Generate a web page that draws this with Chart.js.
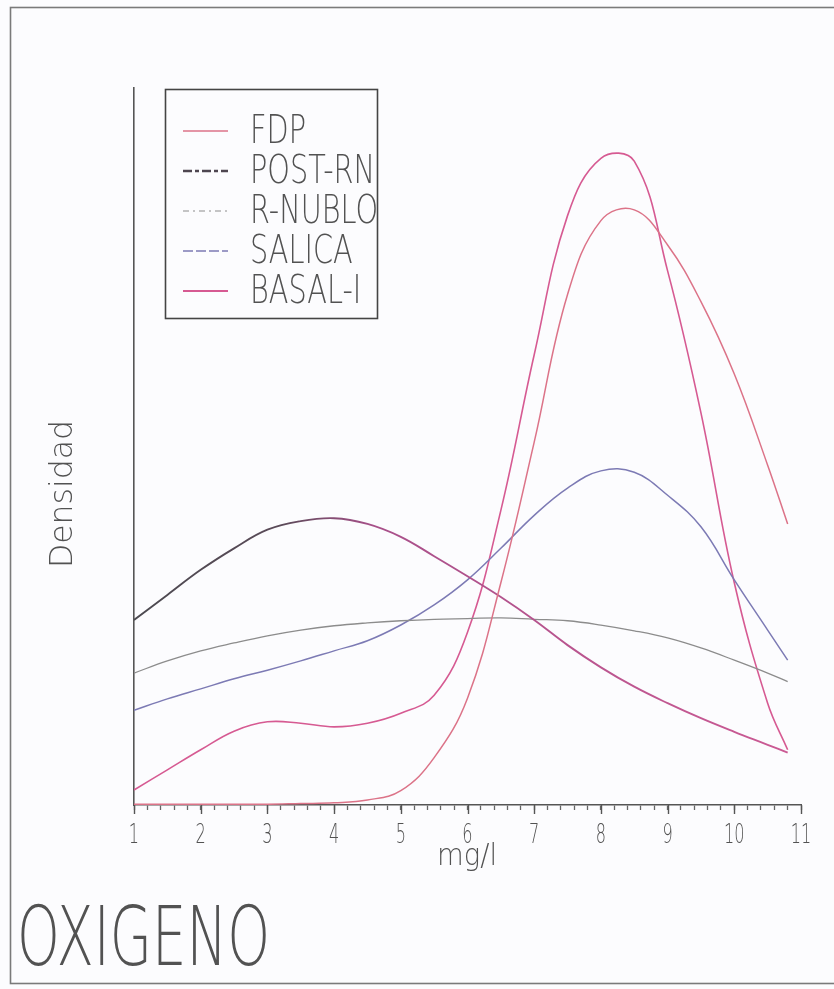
<!DOCTYPE html>
<html>
<head>
<meta charset="utf-8">
<script src="https://cdn.jsdelivr.net/npm/chart.js@4.4.0/dist/chart.umd.min.js"></script>
<style>
html, body { margin: 0; padding: 0; background: #fcfcfe; }
#wrap { position: relative; width: 834px; height: 989px; }
</style>
</head>
<body>
<div id="wrap"><canvas id="chart_oxigeno" width="834" height="989"></canvas></div>
<script>
// oxigeno (mg/l) sample points
let oxigeno = [1, 1.5, 2, 2.5, 3, 3.5, 4, 4.5, 5, 5.5, 6, 6.5, 7, 7.5, 8, 8.5, 9, 9.5, 10, 10.5, 10.8];

// densidades
let fdp    = [0.001, 0.001, 0.001, 0.001, 0.001, 0.002, 0.003, 0.007, 0.020, 0.066, 0.149, 0.310, 0.506, 0.712, 0.815, 0.830, 0.781, 0.702, 0.601, 0.474, 0.392];
let postRn = [0.258, 0.293, 0.328, 0.358, 0.384, 0.396, 0.400, 0.392, 0.374, 0.347, 0.319, 0.290, 0.258, 0.223, 0.192, 0.165, 0.142, 0.121, 0.102, 0.084, 0.073];
let rNublo = [0.184, 0.201, 0.215, 0.226, 0.236, 0.244, 0.250, 0.254, 0.257, 0.259, 0.260, 0.261, 0.259, 0.257, 0.251, 0.243, 0.233, 0.219, 0.202, 0.184, 0.172];
let salica = [0.132, 0.148, 0.162, 0.176, 0.188, 0.201, 0.215, 0.229, 0.251, 0.279, 0.314, 0.358, 0.404, 0.442, 0.466, 0.464, 0.432, 0.388, 0.314, 0.244, 0.202];
let basalI = [0.021, 0.049, 0.077, 0.103, 0.116, 0.114, 0.109, 0.114, 0.128, 0.153, 0.241, 0.411, 0.628, 0.822, 0.902, 0.898, 0.745, 0.547, 0.310, 0.142, 0.077];

let seriesNames = ['FDP', 'POST-RN', 'R-NUBLO', 'SALICA', 'BASAL-I'];
let xTickLabels = [1, 2, 3, 4, 5, 6, 7, 8, 9, 10, 11];

let textColor = '#525252';
let font = "200 {s}px 'DejaVu Sans'";

function pts(arr) {
    return oxigeno.map((x, i) => ({ x: x, y: arr[i] }));
}

// POST-RN se ve gris oscuro a la izquierda y magenta a la derecha
function postRnColor(context) {
    let chart = context.chart;
    let area = chart.chartArea;
    if (!area) return '#6a4a60';
    let g = chart.ctx.createLinearGradient(area.left, 0, area.right, 0);
    g.addColorStop(0, '#4c4a50');
    g.addColorStop(0.22, '#5a4a58');
    g.addColorStop(0.36, '#a8508a');
    g.addColorStop(1, '#cc5a94');
    return g;
}

function drawText(ctx, text, x, y, size, sx, align) {
    ctx.save();
    ctx.translate(x, y);
    ctx.scale(sx, 1);
    ctx.font = font.replace('{s}', size);
    ctx.textAlign = align || 'left';
    ctx.textBaseline = 'alphabetic';
    ctx.fillStyle = textColor;
    ctx.fillText(text, 0, 0);
    ctx.restore();
}

function fitScale(ctx, text, size, width) {
    ctx.save();
    ctx.font = font.replace('{s}', size);
    let w = ctx.measureText(text).width;
    ctx.restore();
    return width / w;
}

let legendColors = ['#dc7388', '#4e4650', '#8c8c8c', '#7c7ab4', '#d65a92'];
let legendDash = [[], [9, 3, 4, 3], [6, 4, 2, 4], [10, 3], []];
let legendWidth = [1.6, 2.6, 1.2, 1.6, 1.8];

let decor = {
    id: 'decor',
    beforeDraw(chart) {
        let ctx = chart.ctx;
        ctx.save();
        ctx.fillStyle = '#fcfcfe';
        ctx.fillRect(0, 0, chart.width, chart.height);
        ctx.strokeStyle = '#7a7a7a';
        ctx.lineWidth = 1.6;
        ctx.strokeRect(10.5, 7.5, 840, 976);
        ctx.restore();
    },
    afterDraw(chart) {
        let ctx = chart.ctx;
        let xs = chart.scales.x;
        let bottom = chart.chartArea.bottom;

        // marcas mayores mas largas
        ctx.save();
        ctx.strokeStyle = '#555';
        ctx.lineWidth = 1.4;
        xTickLabels.forEach(v => {
            let px = Math.round(xs.getPixelForValue(v)) + 0.5;
            ctx.beginPath();
            ctx.moveTo(px, bottom);
            ctx.lineTo(px, bottom + 9);
            ctx.stroke();
        });
        ctx.restore();

        // etiquetas del eje x
        xTickLabels.forEach(v => {
            drawText(ctx, String(v), xs.getPixelForValue(v), 843, 26, 0.62, 'center');
        });

        // titulos de ejes
        let sxm = fitScale(ctx, 'mg/l', 30, 60);
        drawText(ctx, 'mg/l', 467, 865, 30, sxm, 'center');

        ctx.save();
        ctx.translate(72, 494);
        ctx.rotate(-Math.PI / 2);
        let sxd = fitScale(ctx, 'Densidad', 32, 148);
        drawText(ctx, 'Densidad', 0, 0, 32, sxd, 'center');
        ctx.restore();

        // titulo
        let sxt = fitScale(ctx, 'OXIGENO', 82, 253);
        drawText(ctx, 'OXIGENO', 17, 965, 82, sxt, 'left');

        // leyenda
        let sxl = fitScale(ctx, 'POST-RN', 39, 125);
        seriesNames.forEach((name, i) => {
            let base = 143 + i * 40;
            drawText(ctx, name, 250, base, 39, sxl, 'left');
            ctx.save();
            ctx.strokeStyle = legendColors[i];
            ctx.lineWidth = legendWidth[i];
            ctx.setLineDash(legendDash[i]);
            ctx.beginPath();
            ctx.moveTo(183, base - 12);
            ctx.lineTo(228, base - 12);
            ctx.stroke();
            ctx.restore();
        });
        ctx.save();
        ctx.strokeStyle = '#444';
        ctx.lineWidth = 1.6;
        ctx.strokeRect(165.5, 89.5, 212, 229);
        ctx.restore();
    }
};

let ctx_ox = document.getElementById('chart_oxigeno');

let chart_ox = new Chart(ctx_ox, {
    type: 'line',
    data: {
        datasets: [{
            label: seriesNames[0],
            data: pts(fdp),
            borderColor: '#dc7388',
            borderWidth: 1.5
        }, {
            label: seriesNames[1],
            data: pts(postRn),
            borderColor: postRnColor,
            borderWidth: 1.9
        }, {
            label: seriesNames[2],
            data: pts(rNublo),
            borderColor: '#8c8c8c',
            borderWidth: 1.3
        }, {
            label: seriesNames[3],
            data: pts(salica),
            borderColor: '#7c7ab4',
            borderWidth: 1.5
        }, {
            label: seriesNames[4],
            data: pts(basalI),
            borderColor: '#d65a92',
            borderWidth: 1.6
        }]
    },
    options: {
        responsive: false,
        maintainAspectRatio: false,
        animation: false,
        layout: { padding: { left: 134, right: 33, top: 88, bottom: 184 } },
        elements: {
            point: { radius: 0 },
            line: { tension: 0.4, fill: false }
        },
        plugins: {
            legend: { display: false },
            tooltip: { enabled: false },
            title: { display: false }
        },
        scales: {
            x: {
                type: 'linear',
                min: 1,
                max: 11,
                ticks: { stepSize: 0.2, display: false, autoSkip: false },
                grid: { display: true, drawOnChartArea: false, drawTicks: true, tickLength: 5, tickColor: '#666', tickWidth: 1.3 },
                border: { display: true, color: '#555', width: 1.6 },
                afterFit: s => { s.height = 0; }
            },
            y: {
                type: 'linear',
                min: 0,
                max: 1,
                ticks: { display: false },
                grid: { display: false },
                border: { display: true, color: '#555', width: 1.6 },
                afterFit: s => { s.width = 0; }
            }
        }
    },
    plugins: [decor]
});
</script>
</body>
</html>
